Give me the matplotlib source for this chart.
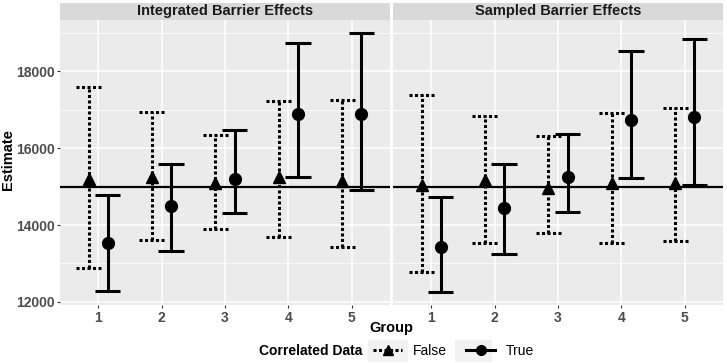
import numpy as np
import matplotlib.pyplot as plt
from matplotlib.lines import Line2D
from matplotlib.patches import Rectangle

plt.rcParams['font.family'] = ['Liberation Sans', 'DejaVu Sans']

panels = ['Integrated Barrier Effects', 'Sampled Barrier Effects']
groups = [1, 2, 3, 4, 5]

# Integrated panel
int_false_est = [15200, 15250, 15100, 15250, 15150]
int_false_lo = [12880, 13610, 13905, 13700, 13440]
int_false_hi = [17585, 16945, 16340, 17230, 17250]
int_true_est = [13525, 14500, 15200, 16875, 16880]
int_true_lo = [12290, 13325, 14305, 15255, 14910]
int_true_hi = [14770, 15580, 16470, 18720, 18995]

# Sampled panel
smp_false_est = [15050, 15180, 14970, 15100, 15100]
smp_false_lo = [12790, 13525, 13800, 13540, 13575]
smp_false_hi = [17385, 16825, 16310, 16900, 17055]
smp_true_est = [13430, 14440, 15255, 16735, 16815]
smp_true_lo = [12250, 13250, 14345, 15210, 15045]
smp_true_hi = [14735, 15575, 16355, 18520, 18830]

true_value = 15000

data = [
    (int_false_est, int_false_lo, int_false_hi, int_true_est, int_true_lo, int_true_hi),
    (smp_false_est, smp_false_lo, smp_false_hi, smp_true_est, smp_true_lo, smp_true_hi),
]

W, H = 727, 363
fig = plt.figure(figsize=(W / 100, H / 100), dpi=100)

panel_x = [(60, 390), (393, 723)]
top, bottom = 20, 305
strip_top = 3
bg = '#EBEBEB'
lw = 2.2
dots = (0, (1, 0.8))
dodge = 0.15
cap = 0.2

for k, (x0, x1) in enumerate(panel_x):
    ax = fig.add_axes([x0 / W, 1 - bottom / H, (x1 - x0) / W, (bottom - top) / H])
    ax.set_facecolor(bg)
    for s in ax.spines.values():
        s.set_visible(False)
    ax.set_xlim(0.4, 5.6)
    ax.set_ylim(11920, 19330)
    ax.set_yticks([12000, 14000, 16000, 18000])
    ax.set_yticks([13000, 15000, 17000, 19000], minor=True)
    ax.set_xticks(groups)
    ax.grid(True, which='major', color='white', lw=1.1)
    ax.grid(True, which='minor', axis='y', color='white', lw=0.55)
    ax.set_axisbelow(True)
    ax.tick_params(axis='both', which='major', length=2.5, color='#333333',
                   labelsize=10, labelcolor='#4D4D4D', pad=1.5)
    ax.tick_params(which='minor', length=0)
    for t in ax.get_xticklabels() + ax.get_yticklabels():
        t.set_fontweight('bold')
    if k == 1:
        ax.tick_params(axis='y', labelleft=False, length=0)

    fe, fl, fh, te, tl, th = data[k]
    g = np.array(groups, dtype=float)
    xf = g - dodge
    xt = g + dodge
    ax.axhline(true_value, color='black', lw=1.6, zorder=2)
    ax.vlines(xf, fl, fh, colors='black', lw=lw, linestyles=dots, zorder=3)
    ax.hlines(fl, xf - cap, xf + cap, colors='black', lw=lw, linestyles=dots, zorder=3)
    ax.hlines(fh, xf - cap, xf + cap, colors='black', lw=lw, linestyles=dots, zorder=3)
    ax.plot(xf, fe, ls='none', marker='^', ms=9, color='black', zorder=4)
    ax.vlines(xt, tl, th, colors='black', lw=lw, zorder=3)
    ax.hlines(tl, xt - cap, xt + cap, colors='black', lw=lw, zorder=3)
    ax.hlines(th, xt - cap, xt + cap, colors='black', lw=lw, zorder=3)
    ax.plot(xt, te, ls='none', marker='o', ms=8.5, color='black', zorder=4)

    sax = fig.add_axes([x0 / W, 1 - top / H, (x1 - x0) / W, (top - strip_top) / H])
    sax.set_facecolor('#D9D9D9')
    sax.set_xticks([])
    sax.set_yticks([])
    for s in sax.spines.values():
        s.set_visible(False)
    sax.text(0.5, 0.5, panels[k], transform=sax.transAxes, ha='center', va='center',
             fontsize=10.5, fontweight='bold', color='#1A1A1A')

fig.text(8 / W, 1 - 160 / H, 'Estimate', rotation=90, ha='center', va='center',
         fontsize=10.5, fontweight='bold')
fig.text(391 / W, 1 - 328 / H, 'Group', ha='center', va='center',
         fontsize=10.5, fontweight='bold')
fig.text(362 / W, 1 - 351 / H, 'Correlated Data', ha='right', va='center',
         fontsize=10, fontweight='bold')

# legend key backgrounds
for kx0, kx1 in [(368, 408), (455, 492)]:
    fig.patches.append(Rectangle((kx0 / W, 1 - 362 / H), (kx1 - kx0) / W, 22 / H,
                                 transform=fig.transFigure, facecolor='#F2F2F2',
                                 edgecolor='none', zorder=0))

handles = [
    Line2D([], [], color='black', lw=lw, ls=dots, marker='^', ms=7.5),
    Line2D([], [], color='black', lw=lw, marker='o', ms=7),
]
fig.legend(handles, ['False', 'True'], loc='center left',
           bbox_to_anchor=(373 / W, 1 - 351 / H), ncol=2, frameon=False,
           fontsize=10, handlelength=2.1, handletextpad=0.75, columnspacing=1.4,
           borderpad=0, borderaxespad=0)

fig.savefig('out.png', dpi=100)
